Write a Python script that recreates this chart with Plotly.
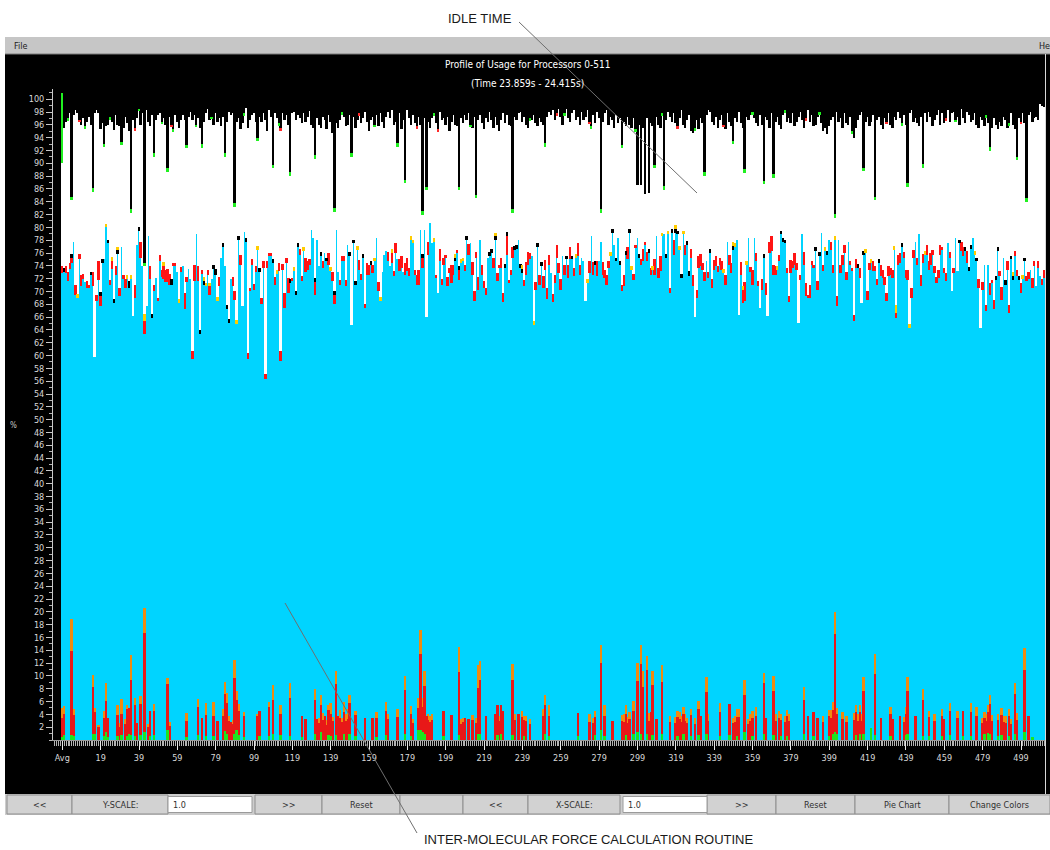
import plotly.graph_objects as go

# ---------------- DATA (index 0 = "Avg", index p+1 = processor p) ----------------
x_tick_labels = ["Avg", "19", "39", "59", "79", "99", "119", "139", "159", "179", "199", "219",
                 "239", "259", "279", "299", "319", "339", "359", "379", "399", "419", "439",
                 "459", "479", "499"]
x_tick_index = [0, 20, 40, 60, 80, 100, 120, 140, 160, 180, 200, 220, 240, 260, 280, 300, 320,
                340, 360, 380, 400, 420, 440, 460, 480, 500]
y_tick_values = list(range(2, 101, 2))
Y_MAX = 101.6

# top of the cyan (main computation) block, % (cumulative from 0)
cyan_top = [
    72.9, 73.0, 72.9, 71.6, 73.5, 74.5, 77.8, 69.5, 69.0, 75.0,
    70.8, 72.0, 71.5, 70.6, 70.5, 72.5, 70.8, 59.7, 68.5, 71.8,
    67.8, 74.5, 75.0, 80.0, 77.5, 71.0, 73.5, 68.2, 72.5, 75.8,
    69.3, 77.0, 72.0, 70.6, 72.0, 70.6, 72.0, 66.1, 69.0, 77.3,
    79.4, 75.2, 74.0, 63.3, 67.7, 78.6, 72.0, 65.9, 70.0, 72.1,
    68.5, 74.7, 72.3, 72.0, 71.5, 71.5, 71.0, 71.0, 74.0, 74.0,
    73.0, 68.2, 73.0, 74.0, 67.2, 71.5, 73.5, 72.0, 59.4, 71.6,
    78.9, 71.6, 63.4, 72.8, 71.0, 70.8, 72.5, 69.5, 72.0, 73.5,
    72.5, 68.5, 70.8, 75.2, 76.9, 74.0, 67.3, 65.1, 72.0, 70.8,
    68.7, 64.9, 78.0, 74.2, 67.8, 79.3, 77.8, 59.4, 70.0, 74.2,
    70.2, 73.0, 76.5, 73.0, 68.0, 73.7, 56.3, 73.7, 75.5, 75.5,
    74.4, 71.0, 72.8, 73.2, 59.1, 73.3, 67.4, 74.5, 69.8, 71.3,
    71.6, 73.2, 69.5, 77.0, 75.7, 71.6, 76.3, 73.0, 73.4, 74.2,
    79.6, 78.3, 69.5, 78.0, 74.0, 75.5, 73.7, 76.0, 74.7, 74.2,
    73.2, 71.6, 68.0, 79.6, 73.0, 71.0, 74.7, 74.7, 70.8, 77.3,
    75.5, 64.7, 77.5, 71.0, 76.5, 73.4, 71.8, 75.2, 67.5, 72.6,
    72.6, 74.2, 72.9, 74.7, 78.3, 70.0, 68.5, 73.0, 75.7, 76.3,
    74.7, 74.0, 74.5, 72.4, 76.0, 75.0, 73.2, 73.7, 73.0, 72.6,
    73.2, 72.4, 78.1, 77.5, 72.6, 71.0, 71.0, 79.6, 73.7, 79.6,
    66.0, 75.7, 80.7, 77.5, 77.8, 72.1, 69.8, 74.7, 71.0, 74.2,
    75.2, 70.8, 72.9, 71.3, 72.6, 74.7, 76.0, 71.8, 74.5, 74.7,
    73.2, 78.0, 75.7, 77.5, 72.6, 68.5, 75.2, 70.2, 78.0, 72.6,
    70.6, 69.5, 75.2, 75.5, 76.0, 73.7, 78.0, 71.6, 73.7, 73.7,
    68.3, 73.7, 75.7, 71.3, 72.6, 75.2, 76.5, 76.7, 78.0, 73.7,
    72.9, 70.8, 72.6, 74.2, 75.0, 75.5, 64.8, 70.2, 76.9, 71.0,
    74.0, 70.6, 73.4, 68.8, 74.2, 72.9, 68.3, 71.3, 75.2, 72.9,
    70.2, 75.5, 72.6, 75.0, 72.1, 75.0, 75.0, 72.4, 75.2, 75.5,
    72.6, 75.2, 74.7, 68.5, 71.3, 72.9, 78.6, 72.6, 74.2, 72.4,
    74.7, 77.8, 72.6, 72.1, 71.0, 73.7, 75.5, 79.1, 77.3, 74.7,
    78.3, 74.2, 70.0, 70.8, 75.7, 75.0, 79.1, 73.4, 71.8, 76.8,
    78.3, 75.2, 74.2, 74.7, 77.3, 74.7, 76.0, 72.6, 73.4, 72.6,
    78.6, 72.1, 73.2, 78.6, 78.9, 75.2, 78.9, 69.8, 79.1, 75.7,
    79.1, 78.9, 76.5, 72.1, 78.9, 75.7, 77.3, 72.4, 75.2, 70.8,
    66.0, 69.0, 73.7, 74.0, 73.4, 71.6, 74.7, 72.1, 76.0, 70.6,
    73.4, 74.0, 73.0, 74.2, 73.4, 72.9, 71.0, 77.8, 74.2, 72.9,
    76.5, 77.0, 78.0, 66.4, 72.6, 68.2, 68.5, 74.2, 78.3, 73.0,
    71.0, 78.3, 74.7, 70.8, 67.4, 70.2, 75.2, 69.5, 66.1, 76.0,
    76.3, 72.6, 72.6, 73.4, 74.7, 78.9, 77.8, 77.5, 72.9, 68.3,
    72.9, 73.7, 74.2, 73.4, 65.1, 71.8, 78.9, 74.2, 69.3, 69.0,
    69.0, 74.2, 73.7, 76.3, 70.2, 75.5, 79.1, 73.2, 76.3, 75.7,
    78.0, 76.5, 72.9, 78.0, 67.8, 78.0, 72.9, 74.2, 76.0, 71.8,
    77.8, 74.2, 73.2, 65.4, 73.7, 73.7, 72.1, 68.2, 75.7, 76.0,
    68.7, 73.4, 74.5, 73.2, 73.2, 71.0, 74.5, 72.4, 72.1, 71.0,
    68.5, 72.4, 72.6, 72.1, 76.5, 65.8, 74.2, 74.5, 77.0, 75.2,
    72.1, 71.8, 64.3, 69.0, 75.2, 77.8, 74.2, 78.9, 70.8, 74.5,
    75.7, 75.7, 73.4, 74.2, 75.7, 72.9, 71.3, 72.1, 75.7, 76.5,
    72.9, 71.6, 77.5, 75.2, 70.0, 72.9, 78.3, 73.2, 77.5, 76.3,
    75.5, 76.3, 74.5, 73.2, 76.7, 78.3, 75.7, 74.7, 70.6, 64.3,
    70.2, 74.2, 66.9, 74.2, 69.5, 71.3, 67.2, 71.8, 76.3, 72.4,
    68.7, 75.2, 71.0, 73.4, 66.6, 75.0, 71.8, 75.5, 72.4, 71.8,
    69.8, 72.0, 74.7, 71.6, 72.0, 73.4, 70.6, 74.0, 70.8, 73.7,
    72.4, 71.0, 72.1,
]

# red segment sitting on top of the cyan block, %
mid_red = [
    1.1, 0, 1.0, 1.5, 1.0, 0.8, 0, 1.5, 0, 0.8,
    1.8, 0.8, 0, 1.0, 0.5, 0, 2.3, 0, 1.0, 3.0,
    1.5, 0, 0, 0, 0, 0.8, 1.3, 0, 1.5, 0,
    1.3, 0, 0.5, 1.3, 0, 0, 0, 0, 2.0, 0,
    0, 2.5, 0, 2.1, 0, 0, 2.0, 0, 1.0, 0,
    0.5, 1.0, 1.0, 2.0, 1.8, 2.0, 1.8, 0, 0.5, 0.5,
    0, 0, 0.8, 0, 2.5, 0.8, 0, 0, 1.3, 2.5,
    0, 2.3, 0, 0.5, 0, 0, 0.8, 1.3, 0, 0,
    0, 0, 1.5, 0, 0, 0, 0, 0, 0, 1.5,
    1.3, 0, 0, 1.5, 0, 0, 0, 1.0, 0.5, 0.8,
    1.0, 1.0, 0, 0, 1.0, 1.0, 0.8, 1.0, 0.5, 0.5,
    0, 1.3, 0, 1.3, 1.6, 1.0, 2.3, 0.8, 2.3, 0,
    0.5, 0, 0, 0, 1.0, 0.8, 0, 2.3, 1.3, 0.8,
    0, 0, 2.0, 0, 0, 0, 1.0, 0, 0, 1.8,
    0, 1.5, 1.5, 0, 0, 0.8, 0.8, 0.8, 1.0, 0,
    0, 0, 0, 0, 0, 1.5, 1.0, 0, 0.5, 1.8,
    1.5, 0, 1.3, 0, 0, 1.5, 0, 0, 0, 0,
    1.5, 0, 1.5, 0.8, 1.5, 0, 1.8, 1.8, 0, 1.8,
    2.0, 1.3, 0, 0, 0.8, 1.5, 2.3, 0, 1.5, 0,
    0, 2.0, 0, 0, 0, 0.5, 0, 2.0, 1.0, 1.0,
    0.5, 1.5, 0.8, 2.8, 1.5, 0, 0.5, 1.5, 0, 0,
    1.0, 0, 1.7, 0, 2.0, 1.5, 1.0, 2.0, 0, 1.5,
    1.0, 1.0, 0, 0, 0, 1.5, 0, 1.3, 0.5, 1.5,
    1.5, 0, 3.0, 0.5, 0.8, 1.8, 0, 0, 0, 0,
    0, 1.0, 2.0, 2.0, 1.0, 0, 0, 1.3, 0, 1.5,
    0, 1.8, 1.5, 1.8, 1.5, 0, 1.3, 1.3, 2.0, 1.5,
    1.8, 0, 1.5, 0, 2.0, 2.0, 0, 1.3, 0, 2.0,
    1.5, 0, 0, 0, 0, 1.8, 0, 2.0, 0, 2.3,
    0, 0, 2.0, 1.3, 1.5, 1.0, 0, 0, 0, 0,
    0, 0, 1.0, 1.8, 0, 2.0, 0, 0, 1.0, 0.5,
    0, 0, 0.8, 2.0, 0.5, 1.5, 0, 1.0, 0, 2.5,
    0, 1.5, 2.3, 0, 0, 0, 0, 0.8, 0, 2.3,
    0, 0, 0, 0, 0, 1.5, 0, 0, 1.5, 1.8,
    0, 1.3, 1.8, 1.8, 1.0, 1.5, 0, 1.0, 0, 1.3,
    1.5, 1.5, 1.0, 1.0, 1.3, 0, 1.5, 0, 1.5, 1.5,
    0, 0, 0, 0, 2.0, 2.0, 3.0, 0, 0, 0.8,
    2.3, 0, 1.3, 0.8, 0, 1.8, 0, 1.8, 0, 1.8,
    2.3, 1.5, 1.3, 0, 1.0, 0, 0, 0, 0.8, 1.0,
    2.0, 1.0, 1.8, 1.0, 0, 0.8, 0, 2.0, 2.0, 0.5,
    2.0, 0.5, 0.5, 0, 1.5, 0, 0, 1.0, 0, 0,
    0, 1.3, 1.3, 0, 1.5, 0, 1.3, 1.5, 1.3, 1.3,
    0, 0.5, 0.5, 1.0, 1.3, 0, 1.5, 0, 0, 0,
    1.3, 1.0, 0, 1.5, 0.8, 1.0, 0, 1.8, 1.3, 1.3,
    1.3, 1.5, 1.0, 1.3, 0, 0.8, 1.5, 1.5, 0, 1.0,
    1.3, 1.5, 0, 1.5, 1.3, 0, 1.0, 0, 1.8, 1.3,
    0, 1.5, 1.3, 1.8, 0.8, 1.0, 1.0, 1.3, 1.5, 0.5,
    0.8, 1.3, 0, 1.0, 0, 0.8, 0, 0, 0, 1.5,
    1.5, 0, 1.8, 0, 0, 0, 0, 0, 1.3, 0,
    1.3, 0, 1.0, 0, 1.8, 0.5, 1.5, 0, 0, 0.8,
    2.0, 0, 0, 1.3, 1.3, 0, 0, 0.8, 1.0, 0,
    1.5, 0, 0, 0.8, 1.0, 0, 1.5, 0.8, 0, 1.0,
    0, 1.0, 1.3,
]

# top of each bar (busy + idle), %
total = [
    101.0, 95.5, 96.5, 97.0, 97.8, 84.8, 97.5, 98.3, 97.8, 96.8,
    96.0, 97.0, 95.8, 96.5, 97.3, 96.0, 86.1, 97.8, 98.4, 97.8,
    95.3, 96.3, 93.0, 95.8, 96.0, 97.2, 96.5, 95.2, 97.6, 96.0,
    95.8, 93.4, 95.5, 97.3, 96.3, 95.0, 82.9, 96.8, 95.5, 97.0,
    98.5, 96.0, 97.8, 74.5, 98.3, 96.5, 95.8, 97.5, 91.6, 96.8,
    97.6, 97.8, 96.5, 97.0, 96.0, 89.3, 97.3, 96.0, 95.3, 97.5,
    96.5, 95.5, 96.8, 97.5, 96.8, 92.9, 97.3, 98.0, 96.8, 97.5,
    96.0, 97.0, 95.5, 93.0, 96.5, 97.8, 98.5, 96.8, 97.3, 96.0,
    97.8, 96.5, 97.0, 95.8, 97.3, 91.6, 96.5, 98.0, 97.5, 97.8,
    83.8, 96.5, 97.0, 95.3, 96.3, 97.8, 98.6, 95.5, 96.8, 97.5,
    97.8, 96.5, 94.0, 97.3, 96.5, 97.8, 96.8, 95.0, 98.3, 97.3,
    89.8, 97.8, 97.0, 96.3, 95.5, 97.8, 96.8, 97.5, 96.0, 88.7,
    97.8, 98.0, 96.8, 97.5, 97.0, 96.3, 97.8, 96.5, 97.3, 98.2,
    96.0, 95.5, 91.3, 97.0, 96.0, 95.5, 97.3, 96.8, 95.3, 97.5,
    96.5, 94.8, 83.0, 96.3, 95.5, 96.8, 98.0, 97.3, 95.8, 96.0,
    97.5, 91.6, 97.3, 95.5, 96.8, 97.8, 96.3, 97.0, 98.0, 96.5,
    95.0, 96.8, 97.3, 96.0, 97.5, 95.8, 97.8, 96.5, 95.5, 97.3,
    98.0, 97.0, 98.3, 96.0, 96.5, 93.1, 97.8, 95.3, 96.8, 87.4,
    98.3, 97.0, 96.0, 97.5, 96.3, 95.8, 97.3, 96.0, 82.5, 97.0,
    86.3, 96.5, 95.5, 97.0, 97.8, 96.3, 95.3, 98.0, 96.8, 97.0,
    96.0, 97.3, 95.0, 96.5, 97.5, 96.0, 95.8, 86.3, 97.0, 96.3,
    97.5, 96.8, 97.8, 96.0, 95.5, 97.3, 85.1, 96.8, 97.5, 96.3,
    95.3, 97.0, 96.5, 98.0, 96.8, 95.5, 97.3, 96.0, 95.0, 96.8,
    97.8, 96.3, 97.5, 96.0, 95.8, 82.8, 97.3, 96.8, 97.8, 98.0,
    96.5, 97.3, 96.0, 95.5, 97.0, 96.8, 97.5, 96.3, 95.8, 97.0,
    96.5, 96.0, 93.1, 97.3, 98.0, 97.5, 98.3, 96.8, 97.8, 98.5,
    97.3, 96.0, 97.8, 98.5, 97.0, 96.5, 97.8, 98.3, 96.8, 97.3,
    96.0, 98.0, 96.8, 97.3, 98.3, 96.5, 95.8, 97.5, 96.3, 98.0,
    97.0, 82.8, 96.5, 97.8, 98.3, 96.0, 97.3, 96.8, 95.5, 97.5,
    96.3, 97.0, 92.9, 96.5, 95.8, 97.3, 96.0, 95.5, 97.0, 95.3,
    86.6, 96.0, 86.6, 95.5, 85.2, 97.0, 85.4, 96.3, 95.8, 89.8,
    97.3, 96.0, 95.5, 97.8, 86.4, 96.8, 98.0, 97.3, 96.5, 97.8,
    96.3, 95.8, 97.0, 98.3, 96.0, 95.5, 96.8, 97.5, 95.0, 94.8,
    95.5, 96.8, 95.3, 97.0, 96.3, 88.7, 97.5, 98.3, 98.0, 96.5,
    96.0, 97.3, 95.5, 96.8, 97.5, 96.0, 95.3, 97.8, 96.5, 95.8,
    93.5, 97.0, 96.5, 98.0, 96.3, 95.5, 89.1, 97.3, 96.8, 97.5,
    98.0, 97.0, 96.3, 95.8, 97.5, 96.0, 87.3, 97.3, 96.8, 95.5,
    97.8, 88.3, 96.5, 97.3, 96.0, 95.3, 97.5, 98.3, 96.5, 97.0,
    96.3, 97.8, 95.8, 96.5, 97.3, 98.0, 96.8, 95.5, 97.0, 98.3,
    96.5, 97.5, 95.8, 96.0, 97.3, 98.0, 96.3, 95.0, 95.5, 94.5,
    95.8, 96.8, 97.3, 82.1, 98.0, 96.5, 97.0, 95.5, 97.8, 96.3,
    96.0, 97.3, 95.0, 94.0, 95.5, 96.8, 97.5, 98.0, 89.3, 96.5,
    97.3, 95.8, 96.5, 97.5, 84.8, 96.8, 97.3, 96.0, 95.3, 97.0,
    96.5, 97.8, 96.0, 95.5, 97.3, 96.8, 98.0, 97.0, 96.3, 97.5,
    96.0, 86.9, 97.8, 98.3, 96.5, 97.0, 96.3, 95.8, 97.3, 89.9,
    97.8, 96.5, 98.0, 97.3, 95.8, 96.8, 97.5, 98.3, 96.0, 97.8,
    96.3, 97.0, 98.3, 96.5, 97.8, 98.0, 96.8, 97.3, 96.0, 98.5,
    97.0, 96.3, 98.0, 97.5, 96.5, 96.8, 97.8, 96.0, 95.5, 97.3,
    96.8, 95.8, 97.5, 96.3, 92.6, 95.5, 97.0, 96.0, 95.3, 96.5,
    95.8, 97.3, 96.8, 95.5, 96.3, 97.8, 96.0, 95.3, 91.0, 97.0,
    96.5, 97.8, 96.3, 84.6, 97.5, 98.0, 96.5, 97.0, 97.3, 96.8,
    99.3, 99.0, 98.8,
]

# inter-molecular force routine (bottom spikes): {bar index: %}
force_red = {
    0: 3.0, 1: 3.3, 5: 13.1, 6: 3.3, 16: 7.3, 17: 3.3, 19: 2.0, 22: 2.8, 23: 4.9, 24: 3.0,
    29: 3.3, 30: 2.0, 31: 3.3, 33: 2.5, 34: 4.2, 35: 4.0, 36: 8.6, 38: 4.8, 39: 2.7, 41: 4.8,
    43: 15.5, 45: 2.0, 46: 3.8, 48: 3.8, 55: 7.3, 56: 2.2, 65: 2.5, 71: 4.3, 73: 3.5, 75: 3.2,
    79: 3.2, 81: 3.0, 84: 3.8, 85: 5.8, 86: 4.8, 87: 3.0, 88: 2.8, 89: 2.5, 90: 8.7, 91: 4.8,
    92: 3.8, 95: 3.3, 102: 3.8, 103: 4.0, 108: 4.4, 110: 5.3, 114: 3.3, 119: 5.9, 125: 3.3,
    127: 3.3, 132: 5.3, 133: 3.3, 134: 2.6, 135: 4.3, 136: 3.2, 137: 3.8, 138: 2.4, 139: 3.9,
    140: 3.5, 141: 3.0, 143: 8.0, 144: 3.8, 145: 3.5, 146: 2.8, 147: 3.5, 148: 3.0, 149: 3.3,
    150: 4.8, 153: 3.3, 158: 3.5, 162: 3.5, 164: 3.0, 169: 3.8, 170: 3.3, 175: 3.6, 179: 6.8,
    182: 3.3, 183: 2.6, 186: 3.5, 187: 12.0, 188: 4.0, 189: 7.5, 190: 3.8, 191: 3.2, 192: 2.8,
    193: 3.2, 199: 4.0, 203: 3.9, 207: 9.8, 208: 2.5, 209: 2.8, 210: 3.5, 212: 3.3, 214: 3.2,
    216: 2.6, 217: 7.2, 218: 8.3, 221: 3.8, 226: 4.0, 227: 4.6, 228: 3.0, 229: 4.6, 230: 4.6,
    235: 8.6, 236: 3.2, 238: 4.0, 240: 3.6, 241: 2.6, 242: 3.0, 244: 2.5, 251: 3.8, 252: 4.4,
    254: 3.0, 269: 3.5, 275: 2.8, 277: 2.6, 278: 2.8, 281: 10.5, 283: 3.0, 287: 3.0, 292: 2.9,
    293: 2.8, 294: 3.2, 295: 2.7, 296: 3.3, 298: 3.6, 300: 8.0, 302: 10.8, 303: 8.2, 305: 9.9,
    306: 3.0, 307: 4.3, 308: 7.8, 310: 3.3, 313: 8.2, 317: 2.8, 320: 2.6, 321: 3.0, 322: 3.3,
    323: 2.8, 324: 3.2, 325: 3.0, 326: 2.6, 328: 3.3, 330: 2.5, 332: 4.0, 333: 3.8, 336: 6.6,
    337: 3.0, 343: 3.8, 348: 4.8, 350: 2.6, 351: 2.8, 352: 3.0, 353: 3.6, 356: 5.8, 358: 2.5,
    359: 3.0, 360: 2.9, 362: 3.8, 366: 7.9, 367: 3.5, 371: 6.8, 372: 3.0, 374: 3.4, 375: 2.6,
    377: 2.8, 378: 3.0, 379: 3.0, 387: 5.3, 389: 3.7, 392: 3.8, 394: 3.5, 397: 2.8, 400: 3.0,
    401: 3.5, 402: 3.8, 403: 15.2, 404: 3.0, 407: 3.3, 409: 2.8, 413: 3.2, 414: 3.5, 415: 3.0,
    416: 3.3, 417: 3.0, 418: 6.8, 424: 9.5, 427: 3.5, 432: 3.4, 433: 3.3, 437: 3.8, 439: 2.8,
    440: 3.3, 441: 6.8, 445: 3.7, 449: 5.6, 452: 3.0, 455: 3.0, 459: 3.1, 460: 3.3, 463: 3.7,
    467: 3.5, 470: 4.0, 474: 3.8, 477: 3.8, 480: 2.6, 481: 2.6, 482: 3.0, 483: 3.3, 484: 4.6,
    485: 2.9, 488: 2.6, 490: 3.1, 491: 2.8, 492: 2.7, 494: 3.1, 495: 2.5, 497: 6.2, 498: 3.1,
    502: 9.8, 504: 3.7,
}
force_orange = {
    0: 1.5, 1: 1.2, 5: 5.0, 6: 1.0, 16: 1.9, 17: 0.7, 19: 0.4, 22: 1.0, 23: 2.8, 29: 1.5,
    30: 0.6, 31: 2.3, 33: 0.8, 34: 0.6, 36: 3.8, 38: 1.1, 41: 1.3, 43: 3.9, 45: 0.5, 48: 1.0,
    55: 0.9, 56: 0.6, 65: 1.2, 71: 1.3, 75: 1.9, 79: 2.1, 84: 1.0, 85: 1.9, 86: 1.6, 87: 0.8,
    89: 0.6, 90: 2.9, 91: 1.3, 92: 1.0, 95: 0.5, 102: 0.2, 108: 0.8, 110: 2.4, 114: 1.3,
    119: 2.3, 132: 1.6, 134: 0.8, 135: 1.6, 136: 1.0, 138: 0.8, 139: 0.7, 140: 1.6, 141: 0.6,
    143: 2.0, 145: 1.2, 146: 0.7, 147: 1.6, 148: 1.0, 149: 1.5, 150: 1.2, 153: 0.7, 164: 0.9,
    169: 1.3, 170: 0.7, 175: 1.2, 179: 2.2, 182: 1.3, 183: 0.7, 186: 1.5, 187: 3.7, 188: 1.3,
    189: 2.3, 191: 0.8, 192: 1.0, 193: 0.8, 207: 3.9, 208: 0.8, 209: 0.6, 214: 0.7, 216: 0.8,
    217: 3.6, 218: 3.0, 228: 0.8, 235: 2.4, 236: 0.8, 240: 1.0, 241: 0.6, 242: 0.8, 244: 0.8,
    251: 1.0, 252: 1.6, 254: 1.8, 275: 1.2, 277: 0.9, 278: 1.0, 281: 2.9, 283: 1.8, 292: 1.0,
    293: 1.2, 294: 1.4, 295: 0.9, 296: 1.0, 298: 1.6, 300: 2.8, 302: 3.1, 303: 2.6, 305: 2.2,
    306: 1.2, 308: 2.2, 313: 2.6, 317: 1.0, 320: 1.0, 321: 1.0, 322: 1.0, 323: 1.0, 324: 1.0,
    325: 1.0, 326: 0.8, 328: 1.0, 330: 1.0, 332: 1.3, 336: 2.4, 337: 1.0, 343: 1.3, 350: 0.8,
    351: 1.0, 352: 1.2, 353: 1.3, 356: 2.4, 358: 0.8, 359: 1.0, 360: 1.0, 362: 1.3, 366: 1.6,
    371: 2.4, 372: 1.0, 374: 1.2, 375: 0.8, 377: 0.9, 378: 1.0, 379: 1.0, 387: 2.0, 397: 1.0,
    400: 1.0, 401: 1.2, 402: 1.2, 403: 3.4, 404: 1.0, 407: 1.1, 409: 1.0, 413: 1.0, 414: 1.1,
    415: 1.0, 416: 1.2, 417: 1.0, 418: 2.2, 424: 3.1, 432: 1.2, 439: 0.8, 440: 1.1, 441: 2.2,
    449: 1.6, 452: 1.0, 455: 1.0, 459: 1.1, 463: 1.2, 467: 1.1, 474: 1.3, 477: 1.3, 480: 0.8,
    481: 0.9, 482: 1.0, 483: 1.0, 484: 1.4, 485: 1.0, 488: 0.9, 490: 1.1, 491: 0.9, 492: 1.0,
    494: 1.1, 495: 0.8, 497: 1.7, 498: 1.1, 502: 3.4,
}
# small green segment at the bottom of bars: {bar index: %}
base_green = {
    0: 0.5, 1: 0.8, 5: 0.8, 6: 0.6, 16: 0.9, 17: 1.0, 22: 0.7, 23: 1.2, 24: 0.5, 29: 0.6,
    31: 0.8, 34: 0.7, 35: 1.0, 36: 0.8, 38: 0.6, 41: 0.8, 43: 1.2, 46: 0.7, 48: 0.8, 55: 1.5,
    65: 0.5, 71: 0.8, 75: 0.7, 79: 0.6, 85: 1.4, 86: 1.0, 90: 0.9, 91: 1.5, 92: 0.8, 95: 0.5,
    103: 0.6, 108: 0.7, 110: 0.9, 114: 0.8, 119: 0.7, 125: 0.5, 132: 1.0, 135: 1.2, 139: 0.8,
    140: 0.6, 143: 0.8, 147: 0.9, 150: 1.0, 153: 0.6, 164: 0.5, 169: 0.8, 179: 1.0, 182: 0.7,
    186: 1.5, 187: 1.5, 188: 1.2, 189: 0.9, 199: 0.6, 207: 0.8, 217: 0.9, 218: 1.0, 227: 0.8,
    229: 0.9, 235: 0.8, 241: 0.6, 252: 1.0, 254: 0.7, 269: 0.7, 278: 0.8, 281: 1.5, 283: 0.7,
    294: 0.8, 298: 0.9, 300: 1.2, 302: 1.0, 305: 1.0, 308: 0.8, 313: 0.9, 321: 0.6, 324: 0.9,
    328: 0.6, 332: 0.8, 336: 0.9, 343: 0.6, 348: 0.8, 352: 0.6, 356: 1.2, 360: 0.6, 366: 1.0,
    371: 0.8, 375: 0.6, 378: 0.7, 387: 0.9, 392: 0.6, 400: 0.7, 402: 0.9, 403: 1.3, 404: 1.0,
    414: 0.8, 416: 1.0, 418: 0.9, 422: 1.8, 424: 0.8, 432: 0.6, 440: 0.8, 441: 0.9, 449: 0.7,
    452: 0.6, 459: 0.7, 463: 0.8, 470: 0.6, 474: 0.6, 481: 0.9, 483: 1.1, 484: 1.0, 488: 0.6,
    490: 0.8, 494: 0.7, 497: 1.0, 502: 1.2, 506: 0.5,
}
# small black and yellow segments above the red one: {bar index: %}
black_cap = {i: 0.6 for i in [
    1, 5, 15, 20, 21, 24, 27, 29, 40, 47, 72, 74, 79, 84, 86, 87, 92, 96, 103, 110, 119, 122,
    123, 132, 135, 138, 142, 150, 152, 153, 157, 161, 188, 205, 207, 211, 223, 224, 226, 231,
    232, 236, 237, 239, 240, 248, 250, 263, 266, 278, 287, 289, 291, 294, 296, 301, 306, 315,
    318, 320, 321, 323, 326, 338, 350, 366, 375, 376, 377, 393, 395, 399, 415, 418, 426, 438,
    468, 471, 473, 474, 477, 487, 488, 495, 496, 499, 502]}
black_cap.update({35: 1.0, 57: 1.0, 80: 1.0, 327: 0.8, 492: 0.8})
yellow_cap = {i: 0.6 for i in [
    8, 23, 26, 29, 34, 36, 53, 61, 74, 75, 77, 81, 91, 102, 112, 121, 126, 140, 154, 163, 166,
    172, 182, 183, 194, 205, 208, 209, 226, 240, 246, 268, 274, 286, 297, 308, 313, 316, 320,
    322, 324, 345, 350, 351, 355, 357, 373, 398, 403, 419, 422, 434, 442, 450, 476, 496, 501]}
yellow_cap.update({43: 1.1, 435: 1.3})
# small segments at the very top of the bars: {bar index: %}
top_green = {
    0: 11.0, 3: 0.4, 5: 0.6, 12: 0.4, 16: 0.6, 22: 0.5, 25: 0.4, 31: 0.5, 36: 0.6, 40: 0.4,
    43: 0.6, 48: 0.6, 52: 0.4, 55: 0.6, 58: 0.4, 65: 0.5, 70: 0.4, 73: 0.6, 78: 0.4, 85: 0.6,
    90: 0.6, 95: 0.4, 102: 0.5, 110: 0.6, 113: 0.4, 119: 0.6, 132: 0.6, 142: 0.6, 146: 0.4,
    151: 0.6, 163: 0.4, 175: 0.5, 179: 0.5, 188: 0.6, 190: 0.5, 194: 0.4, 207: 0.5, 213: 0.4,
    216: 0.5, 235: 0.6, 244: 0.4, 252: 0.5, 262: 0.4, 276: 0.4, 281: 0.6, 292: 0.5, 299: 0.4,
    309: 0.5, 313: 0.4, 314: 0.5, 330: 0.4, 335: 0.6, 350: 0.5, 356: 0.6, 360: 0.4, 366: 0.5,
    371: 0.6, 377: 0.4, 395: 0.4, 403: 0.6, 412: 0.4, 418: 0.5, 424: 0.6, 438: 0.4, 441: 0.6,
    449: 0.6, 466: 0.4, 482: 0.4, 484: 0.6, 494: 0.4, 498: 0.5, 503: 0.6,
}
top_red = {
    9: 0.4, 38: 0.4, 57: 0.4, 114: 0.4, 155: 0.4, 185: 0.4, 196: 0.4, 258: 0.4, 275: 0.4,
    321: 0.4, 345: 0.4, 388: 0.4, 430: 0.4, 461: 0.4, 500: 0.4,
}

# ---------------- build segments (height, base) ----------------
N = len(cyan_top)
assert len(mid_red) == N and len(total) == N
idx = list(range(N))


def dense(d):
    return [d.get(i, 0.0) for i in idx]


g, fr, fo = dense(base_green), dense(force_red), dense(force_orange)
bk, yl = dense(black_cap), dense(yellow_cap)
tg, tr = dense(top_green), dense(top_red)
mr = [float(v) for v in mid_red]

cyan = [max(cyan_top[i] - g[i] - fr[i] - fo[i], 0) for i in idx]
white = [max(total[i] - cyan_top[i] - mr[i] - bk[i] - yl[i] - tg[i] - tr[i], 0) for i in idx]
above = [Y_MAX - total[i] for i in idx]   # background above each bar

b_fr = g
b_fo = [g[i] + fr[i] for i in idx]
b_cy = [g[i] + fr[i] + fo[i] for i in idx]
b_mr = list(cyan_top)
b_bk = [cyan_top[i] + mr[i] for i in idx]
b_yl = [cyan_top[i] + mr[i] + bk[i] for i in idx]
b_wh = [cyan_top[i] + mr[i] + bk[i] + yl[i] for i in idx]
b_tg = [total[i] - tg[i] - tr[i] for i in idx]
b_tr = [total[i] - tr[i] for i in idx]
b_ab = list(total)
zeros = [0.0] * N

# drawing order: large blocks first, small routine segments last so they stay visible
layers = [
    (cyan, b_cy, "#00d4ff"),
    (white, b_wh, "#ffffff"),
    (above, b_ab, "#000000"),
    (mr, b_mr, "#ff1414"),
    (bk, b_bk, "#000000"),
    (yl, b_yl, "#ffcc00"),
    (tg, b_tg, "#20f020"),
    (tr, b_tr, "#ff2a2a"),
    (fo, b_fo, "#f08a10"),
    (fr, b_fr, "#e81818"),
    (g, zeros, "#1ee61e"),
]

fig = go.Figure()
for h, b, col in layers:
    hh = [v if v > 0 else None for v in h]
    fig.add_trace(go.Bar(x=idx, y=hh, base=b, marker=dict(color=col, line=dict(width=0)),
                         hoverinfo="skip", showlegend=False))

# ---------------- layout geometry ----------------
W, H = 1050, 850
ML, MR, MT, MB = 53, 5, 89, 110


def px(x):
    return (x - ML) / (W - ML - MR)


def py(y):
    return (H - MB - y) / (H - MT - MB)


shapes = []
annots = []


def rect(x0, y0, x1, y1, fill, line=None, layer="below", lw=1):
    shapes.append(dict(type="rect", xref="paper", yref="paper", x0=px(x0), x1=px(x1),
                       y0=py(y1), y1=py(y0), fillcolor=fill, layer=layer,
                       line=dict(color=line or fill, width=lw if line else 0)))


def line(x0, y0, x1, y1, color, layer="above", lw=1):
    shapes.append(dict(type="line", xref="paper", yref="paper", x0=px(x0), x1=px(x1),
                       y0=py(y0), y1=py(y1), layer=layer, line=dict(color=color, width=lw)))


GUI_FONT = "Liberation Sans Narrow, DejaVu Sans Condensed, Arial Narrow, Liberation Sans, sans-serif"


def text(x, y, s, size=9, color="#000000", xanchor="center", family=GUI_FONT):
    annots.append(dict(xref="paper", yref="paper", x=px(x), y=py(y), text=s, showarrow=False,
                       xanchor=xanchor, yanchor="middle",
                       font=dict(size=size, color=color, family=family)))


# black application panel, menubar, button bar
rect(5, 54, 1050, 794, "#000000")
rect(5, 37, 1050, 54, "#c6c6c6")
line(5, 54, 1050, 54, "#7a7a7a", layer="below")
rect(5, 794, 1050, 815, "#cdcdcd")
line(1045.5, 54, 1045.5, 794, "#d8d8d8", layer="below")

buttons = [(7, 72, "<<"), (72, 168, "Y-SCALE:"), (255, 322, ">>"), (322, 400, "Reset"),
           (400, 463, ""), (463, 528, "<<"), (528, 620, "X-SCALE:"), (707, 776, ">>"),
           (776, 855, "Reset"), (855, 949, "Pie Chart"), (949, 1050, "Change Colors")]
for x0, x1, lab in buttons:
    rect(x0, 795, x1, 814, "#d2d2d2", line="#8e8e8e")
    if lab:
        text((x0 + x1) / 2, 804.5, lab, size=9, color="#303030")
for x0, x1 in [(168, 252), (623, 707)]:
    rect(x0, 796.5, x1, 812.5, "#ffffff", line="#9a9a9a")
    text(x0 + 3, 804.5, "1.0", size=9, color="#303030", xanchor="left")

text(12, 46, "File", size=9, color="#202020", xanchor="left")
text(1037, 46, "He", size=9, color="#202020", xanchor="left")

text(527, 65, "Profile of Usage for Processors 0-511", size=10, color="#ffffff")
text(527, 83, "(Time 23.859s - 24.415s)", size=10, color="#ffffff")
text(13, 425, "%", size=8, color="#c8c8c8")

CALL_FONT = "Liberation Sans, Arial, sans-serif"
text(446, 18, "IDLE TIME", size=13, color="#1a1a1a", xanchor="left", family=CALL_FONT)
text(422, 839, "INTER-MOLECULAR FORCE CALCULATION ROUTINE", size=13, color="#1a1a1a",
     xanchor="left", family=CALL_FONT)
line(519, 22, 697, 193, "#6f6f6f")
line(417, 833, 285, 603, "#6f6f6f")

fig.update_layout(
    width=W, height=H, barmode="overlay", bargap=0,
    margin=dict(l=ML, r=MR, t=MT, b=MB),
    paper_bgcolor="#ffffff", plot_bgcolor="#000000",
    shapes=shapes, annotations=annots, showlegend=False,
    xaxis=dict(range=[-4.85, 512.5], tickmode="array", tickvals=x_tick_index,
               ticktext=x_tick_labels, ticks="outside", ticklen=9, tickwidth=1,
               tickcolor="#e8e8e8", showgrid=False, zeroline=False,
               showline=True, linecolor="#9a9a9a", linewidth=1,
               tickfont=dict(size=9, color="#d8d8d8", family=GUI_FONT),
               minor=dict(dtick=1, tick0=0, ticks="outside", ticklen=5,
                          tickcolor="#b4b4b4", tickwidth=1, showgrid=False)),
    yaxis=dict(range=[0, Y_MAX], tickmode="array", tickvals=y_tick_values,
               ticks="outside", ticklen=6, tickwidth=1, tickcolor="#c8c8c8",
               showgrid=False, zeroline=False, showline=True, linecolor="#c8c8c8",
               linewidth=1, tickfont=dict(size=9, color="#d8d8d8", family=GUI_FONT),
               minor=dict(dtick=1, tick0=0, ticks="outside", ticklen=3,
                          tickcolor="#b4b4b4", tickwidth=1, showgrid=False)),
)

fig.write_html("out.html", config={"displayModeBar": False},
               post_script="document.body.style.margin='0px';")
